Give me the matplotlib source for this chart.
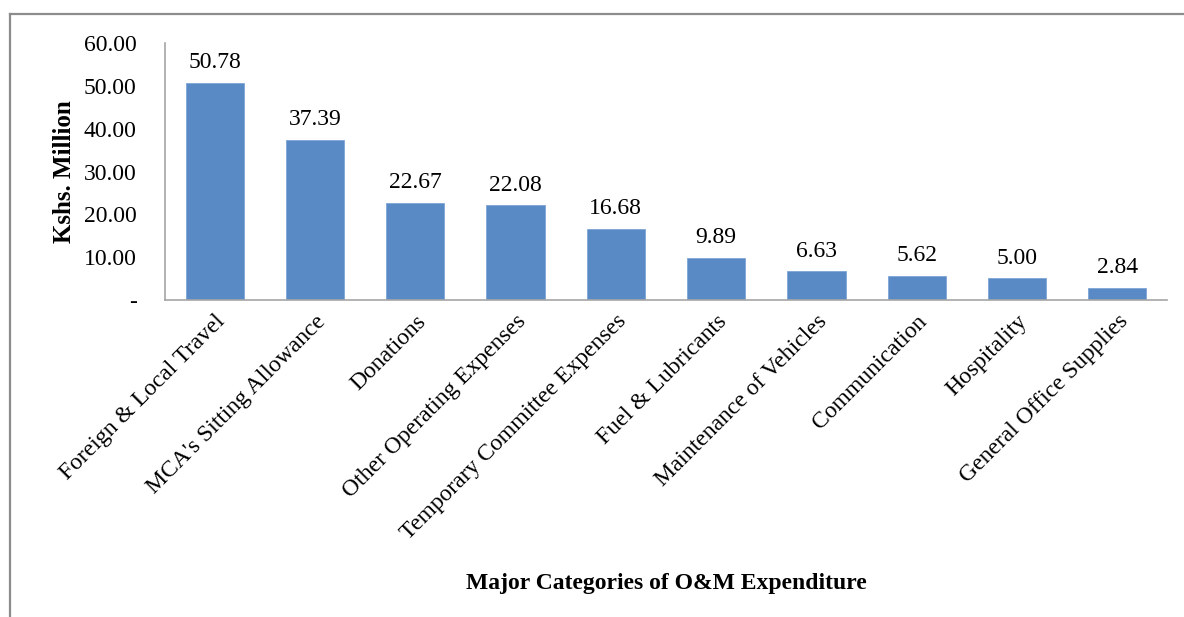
import matplotlib
matplotlib.use('Agg')
import matplotlib.pyplot as plt
from matplotlib.lines import Line2D

CATEGORIES = [
    'Foreign & Local Travel',
    "MCA's Sitting Allowance",
    'Donations',
    'Other Operating Expenses',
    'Temporary Committee Expenses',
    'Fuel & Lubricants',
    'Maintenance of Vehicles',
    'Communication',
    'Hospitality',
    'General Office Supplies',
]
VALUES = [50.78, 37.39, 22.67, 22.08, 16.68, 9.89, 6.63, 5.62, 5.00, 2.84]
Y_TICKS = [0, 10, 20, 30, 40, 50, 60]
Y_TICK_LABELS = ['-', '10.00', '20.00', '30.00', '40.00', '50.00', '60.00']

BAR_COLOR = '#5A8AC6'
AXIS_COLOR = '#A6A6A6'

plt.rcParams['font.family'] = ['Liberation Serif', 'DejaVu Serif']

fig = plt.figure(figsize=(11.84, 6.17), dpi=100)
ax = fig.add_axes([0.139, 0.514, 0.847, 0.416])

x = list(range(len(CATEGORIES)))
bars = ax.bar(x, VALUES, width=0.58, color=BAR_COLOR, edgecolor='#7FA6D6', linewidth=0.6)

for xi, v in zip(x, VALUES):
    ax.annotate('{:.2f}'.format(v), (xi, v), xytext=(0, 7), textcoords='offset points',
                ha='center', va='bottom', fontsize=17)

ax.set_xlim(-0.5, len(CATEGORIES) - 0.5)
ax.set_ylim(0, 60)
ax.set_yticks(Y_TICKS)
ax.set_yticklabels(Y_TICK_LABELS, fontsize=17)
ax.set_xticks(x)
ax.set_xticklabels(CATEGORIES, rotation=45, ha='right', rotation_mode='anchor', fontsize=17)
ax.tick_params(axis='both', length=0)
ax.tick_params(axis='y', pad=20)
ax.tick_params(axis='x', pad=8)

for side in ['top', 'right']:
    ax.spines[side].set_visible(False)
for side in ['left', 'bottom']:
    ax.spines[side].set_color(AXIS_COLOR)
    ax.spines[side].set_linewidth(1.2)

ax.set_ylabel('Kshs. Million', fontsize=18, fontweight='bold', labelpad=6)
fig.text(0.563, 0.055, 'Major Categories of O&M Expenditure', ha='center', va='center',
         fontsize=17, fontweight='bold')

# outer chart frame (only top and left edges visible)
fig.add_artist(Line2D([0.0085, 0.0085], [0.0, 0.977], transform=fig.transFigure,
                      color='#8C8C8C', linewidth=1.6))
fig.add_artist(Line2D([0.0085, 1.0], [0.977, 0.977], transform=fig.transFigure,
                      color='#8C8C8C', linewidth=1.6))

fig.savefig('out.png', dpi=100)
